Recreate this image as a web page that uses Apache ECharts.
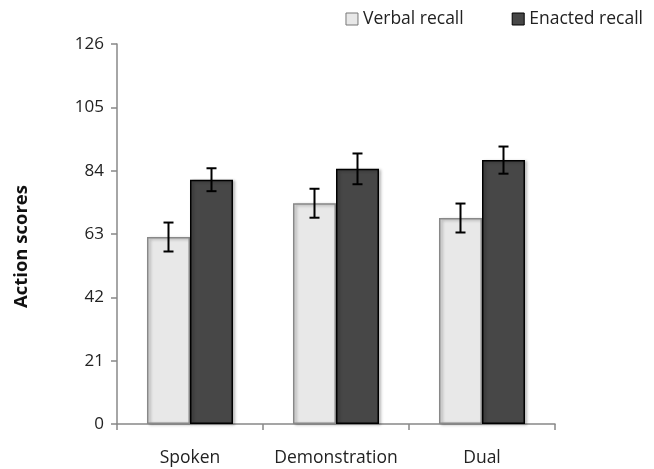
<!DOCTYPE html>
<html>
<head>
<meta charset="utf-8">
<script src="https://cdn.jsdelivr.net/npm/echarts@6/dist/echarts.min.js"></script>
<style>html,body{margin:0;padding:0;background:#fff;}#c{width:654px;height:469px;}</style>
</head>
<body>
<div id="c"></div>
<script>
const categories = ['Spoken', 'Demonstration', 'Dual'];
const verbal = [62, 73.2, 68.3];
const verbalErr = [4.8, 4.8, 4.8];
const enacted = [81, 84.6, 87.5];
const enactedErr = [3.8, 5.1, 4.5];
const yTicks = [0, 21, 42, 63, 84, 105, 126];

const FONT = '"Open Sans", Lato, sans-serif';
const BAR_W = 43;

function errSeries(vals, errs, offset) {
  return {
    type: 'custom',
    silent: true,
    z: 10,
    data: vals.map((v, i) => [i, v - errs[i], v + errs[i]]),
    renderItem: function (params, api) {
      const lo = api.coord([api.value(0), api.value(1)]);
      const hi = api.coord([api.value(0), api.value(2)]);
      const x = lo[0] + offset;
      const cap = 5;
      const st = { stroke: '#000', lineWidth: 2 };
      return {
        type: 'group',
        children: [
          { type: 'line', shape: { x1: x, y1: lo[1], x2: x, y2: hi[1] }, style: st },
          { type: 'line', shape: { x1: x - cap, y1: lo[1], x2: x + cap, y2: lo[1] }, style: st },
          { type: 'line', shape: { x1: x - cap, y1: hi[1], x2: x + cap, y2: hi[1] }, style: st }
        ]
      };
    }
  };
}

const chart = echarts.init(document.getElementById('c'));
chart.setOption({
  animation: false,
  backgroundColor: '#fff',
  grid: { left: 117, right: 99, top: 44, bottom: 45 },
  legend: {
    right: 6, top: 5,
    itemWidth: 12, itemHeight: 12, itemGap: 48,
    textStyle: { fontFamily: FONT, fontSize: 17.5, color: '#222' },
    data: [
      { name: 'Verbal recall', icon: 'rect', itemStyle: { color: '#e8e8e8', borderColor: '#777', borderWidth: 1 } },
      { name: 'Enacted recall', icon: 'rect', itemStyle: { color: '#474747', borderColor: '#000', borderWidth: 1 } }
    ]
  },
  xAxis: {
    type: 'category',
    data: categories,
    axisLine: { lineStyle: { color: '#888', width: 1.5 } },
    axisTick: { show: true, length: 6, alignWithLabel: false, lineStyle: { color: '#888', width: 1.5 } },
    axisLabel: { interval: 0, fontFamily: FONT, fontSize: 17.5, color: '#222', margin: 25 }
  },
  yAxis: {
    type: 'value',
    min: 0, max: 126, interval: 21,
    splitLine: { show: false },
    axisLine: { show: true, lineStyle: { color: '#888', width: 1.5 } },
    axisTick: { show: true, length: 6, lineStyle: { color: '#888', width: 1.5 } },
    axisLabel: {
      fontFamily: FONT, fontSize: 17, color: '#222', margin: 13,
      formatter: v => (yTicks.indexOf(v) >= 0 ? String(v) : '')
    }
  },
  graphic: [{
    type: 'text',
    left: 12, top: 185,
    rotation: Math.PI / 2,
    style: { text: 'Action scores', font: 'bold 18.5px ' + FONT, fill: '#111' }
  }],
  series: [
    {
      name: 'Verbal recall', type: 'bar', data: verbal, barWidth: BAR_W, barGap: '0%',
      itemStyle: { color: '#e8e8e8', borderColor: '#888', borderWidth: 1.5,
        shadowColor: 'rgba(0,0,0,0.3)', shadowBlur: 3, shadowOffsetX: 2, shadowOffsetY: 1 }
    },
    {
      name: 'Enacted recall', type: 'bar', data: enacted, barWidth: BAR_W, barGap: '0%',
      itemStyle: { color: '#474747', borderColor: '#000', borderWidth: 1.5,
        shadowColor: 'rgba(0,0,0,0.3)', shadowBlur: 3, shadowOffsetX: 2, shadowOffsetY: 1 }
    },
    errSeries(verbal, verbalErr, -BAR_W / 2),
    errSeries(enacted, enactedErr, BAR_W / 2)
  ]
});
</script>
</body>
</html>
